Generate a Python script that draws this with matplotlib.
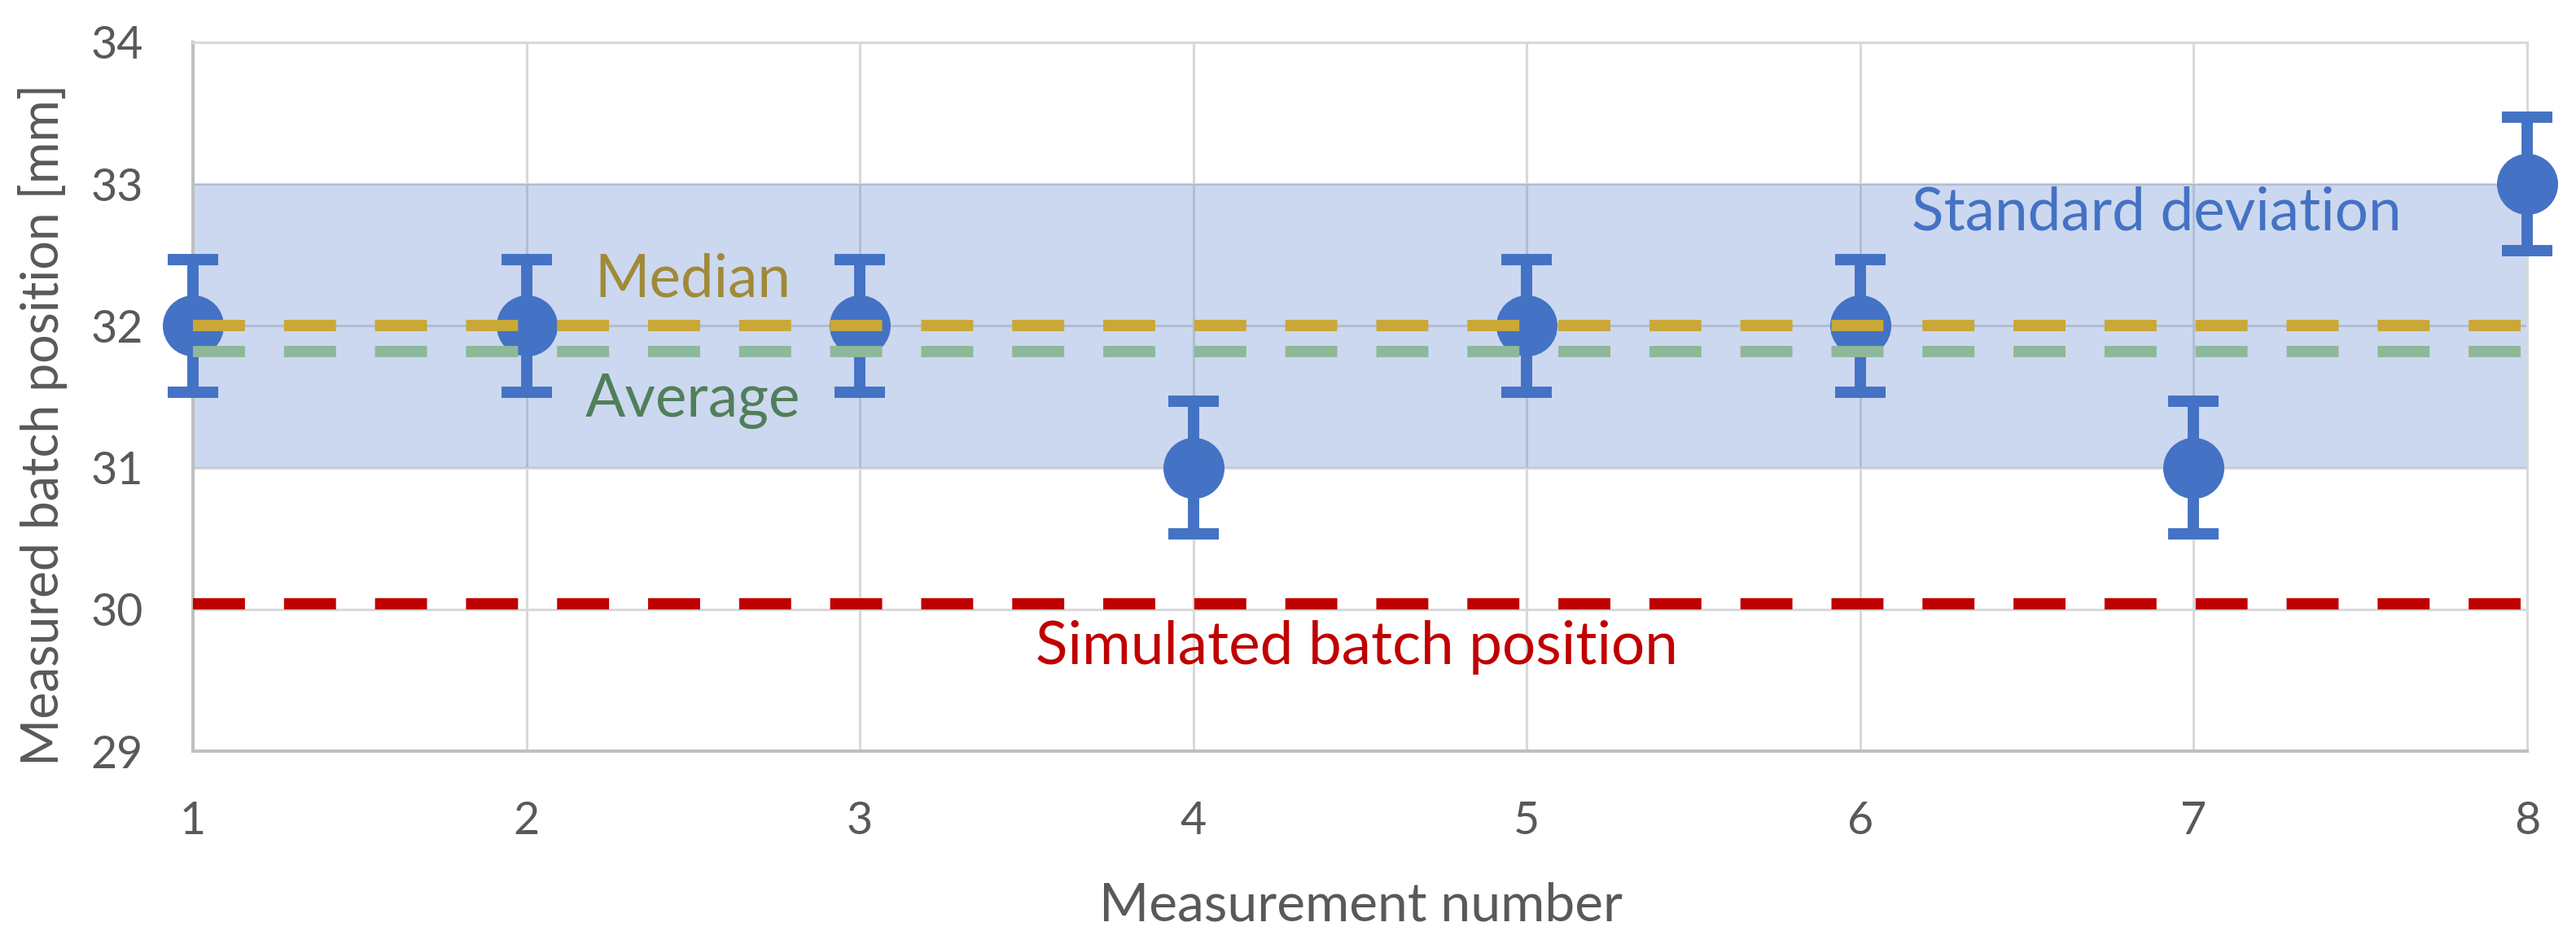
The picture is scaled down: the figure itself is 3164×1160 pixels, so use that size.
import numpy as np
import matplotlib.pyplot as plt

# DATA

measurement = [1, 2, 3, 4, 5, 6, 7, 8]
position = [32, 32, 32, 31, 32, 32, 31, 33]
error = [0.47, 0.47, 0.47, 0.47, 0.47, 0.47, 0.47, 0.47]

median_pos = 32.0
average_pos = 31.82
simulated_pos = 30.04
std_low = 31.0
std_high = 33.0

y_ticks = [29, 30, 31, 32, 33, 34]

# STYLE

plt.rcParams['font.family'] = ['Lato', 'DejaVu Sans']

blue = '#4472C4'
gold = '#C9A838'
green = '#8DB89A'
red = '#C00000'
grey_text = '#595959'

fig = plt.figure(figsize=(31.64, 11.6), dpi=100)
ax = fig.add_axes([0.0749, 0.2043, 0.9061, 0.7509])

ax.set_xlim(1, 8)
ax.set_ylim(29, 34)
ax.set_xticks(measurement)
ax.set_yticks(y_ticks)

ax.grid(True, color='#D9D9D9', linewidth=2.2, zorder=0)
ax.set_axisbelow(True)

for side in ['top', 'right']:
    ax.spines[side].set_color('#D9D9D9')
    ax.spines[side].set_linewidth(2.2)
for side in ['left', 'bottom']:
    ax.spines[side].set_color('#BFBFBF')
    ax.spines[side].set_linewidth(2.9)

ax.tick_params(length=0, labelsize=40, labelcolor=grey_text, pad=44)

# standard deviation band
ax.fill_between(measurement, std_low, std_high, color=blue, alpha=0.27,
                linewidth=0, zorder=2)

# measurements with error bars
ax.errorbar(measurement, position, yerr=error, fmt='o', color=blue,
            markersize=53, elinewidth=10, capsize=22, capthick=10,
            zorder=3, clip_on=False)

n = len(measurement)
ax.plot(measurement, [median_pos]*n, color=gold, linewidth=10,
        dashes=(4.6, 3.45), zorder=4, clip_on=False)
ax.plot(measurement, [average_pos]*n, color=green, linewidth=10,
        dashes=(4.6, 3.45), zorder=4, clip_on=False)
ax.plot(measurement, [simulated_pos]*n, color=red, linewidth=10,
        dashes=(4.6, 3.45), zorder=4, clip_on=False)

# annotations
ax.text(2.5, 32.205, 'Median', color='#A08A38', fontsize=52.5,
        ha='center', va='baseline', zorder=5)
ax.text(2.5, 31.362, 'Average', color='#507F5A', fontsize=52.5,
        ha='center', va='baseline', zorder=5)
ax.text(6.89, 32.675, 'Standard deviation', color=blue, fontsize=52.5,
        ha='center', va='baseline', zorder=5)
ax.text(4.49, 29.613, 'Simulated batch position', color=red, fontsize=52.5,
        ha='center', va='baseline', zorder=5)

# axis labels
fig.text(1672/3164, 1 - 1132/1160, 'Measurement number', color=grey_text,
         fontsize=47.5, ha='center', va='baseline')
fig.text(72/3164, 1 - 522/1160, 'Measured batch position [mm]',
         color=grey_text, fontsize=45, rotation=90, rotation_mode='anchor',
         ha='center', va='baseline')

fig.savefig('out.png', dpi=100)
